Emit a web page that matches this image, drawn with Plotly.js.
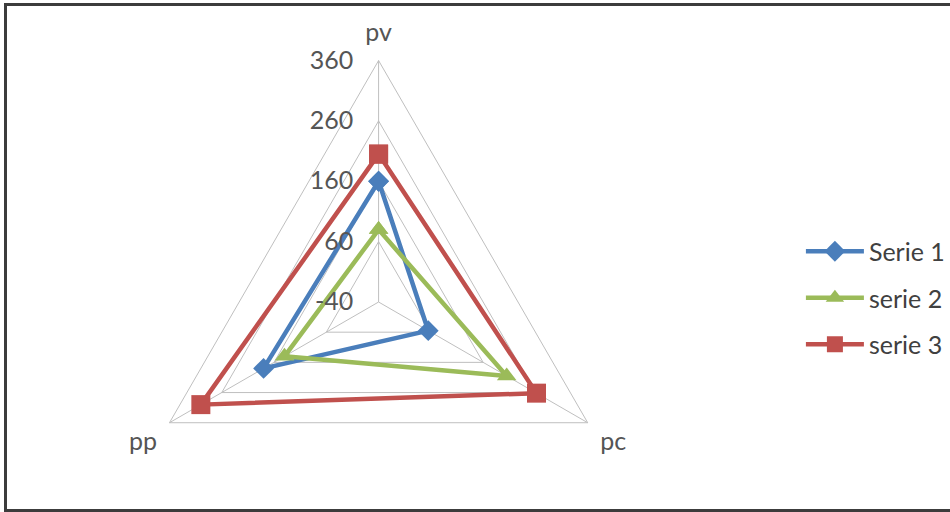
<!DOCTYPE html>
<html>
<head>
<meta charset="utf-8">
<script src="https://cdn.plot.ly/plotly-3.0.1.min.js"></script>
<style>
  html, body { margin: 0; padding: 0; background: #fff; overflow: hidden; }
  #wrap { position: relative; width: 950px; height: 512px; overflow: hidden; }
  #chart { position: absolute; left: 0; top: 0; width: 950px; height: 620px; }
  #frame { position: absolute; left: 4px; top: 3px; width: 960px; height: 503px;
           border-top: 3px solid #3c3c3c; border-left: 3px solid #3c3c3c; border-bottom: 3px solid #3c3c3c;
           pointer-events: none; }
</style>
</head>
<body>
<div id="wrap">
  <div id="chart"></div>
  <div id="frame"></div>
</div>
<script>
// Data
var categories = ['pv', 'pc', 'pp'];
var seriesNames = ['Serie 1', 'serie 2', 'serie 3'];
var serie1 = [160, 55, 180];
var serie2 = [80, 205, 140];
var serie3 = [205, 262, 300];
var radialTicks = [-40, 60, 160, 260, 360];

var colors = ['#4A7EBB', '#9BBB59', '#C0504D'];
var symbols = ['diamond', 'triangle-up', 'square'];
var sizes = [16, 17, 19];
var allSeries = [serie1, serie2, serie3];

function closed(arr) { return arr.concat([arr[0]]); }

var traces = allSeries.map(function (vals, i) {
  return {
    type: 'scatterpolar',
    mode: 'lines+markers',
    name: seriesNames[i],
    legendgroup: 'g' + i,
    r: closed(vals),
    theta: closed(categories),
    line: { color: colors[i], width: 4.5 },
    marker: { symbol: symbols[i], size: sizes[i], color: colors[i] },
    cliponaxis: false
  };
});

var H = 620;
var FONT = 'Lato, "Open Sans", sans-serif';
var layout = {
  width: 950,
  height: H,
  margin: { l: 0, r: 0, t: 0, b: 0 },
  paper_bgcolor: '#ffffff',
  font: { family: FONT, size: 25, color: '#555555' },
  showlegend: true,
  legend: {
    x: 806 / 950, xanchor: 'left',
    y: 1 - 298 / H, yanchor: 'middle',
    font: { family: FONT, size: 25, color: '#404040' },
    tracegroupgap: 11,
    itemwidth: 58,
    bgcolor: 'rgba(0,0,0,0)'
  },
  polar: {
    domain: { x: [138 / 950, 624 / 950], y: [1 - 545 / H, 1 - 59 / H] },
    gridshape: 'linear',
    bgcolor: '#ffffff',
    radialaxis: {
      range: [-40, 360],
      tickvals: radialTicks,
      ticktext: radialTicks.map(String),
      angle: 90,
      tickangle: 90,
      side: 'counterclockwise',
      showline: false,
      ticks: 'outside',
      ticklen: 16,
      tickcolor: 'rgba(0,0,0,0)',
      gridcolor: '#BFBFBF',
      gridwidth: 1,
      tickfont: { family: FONT, size: 25, color: '#555555' }
    },
    angularaxis: {
      type: 'category',
      categoryarray: categories,
      rotation: 90,
      direction: 'clockwise',
      showline: true,
      linecolor: '#BFBFBF',
      linewidth: 1,
      gridcolor: '#BFBFBF',
      gridwidth: 1,
      ticks: 'outside',
      ticklen: 9,
      tickcolor: 'rgba(0,0,0,0)',
      tickfont: { family: FONT, size: 25, color: '#555555' }
    }
  }
};

Plotly.newPlot('chart', traces, layout, { displayModeBar: false, staticPlot: true });
</script>
</body>
</html>
